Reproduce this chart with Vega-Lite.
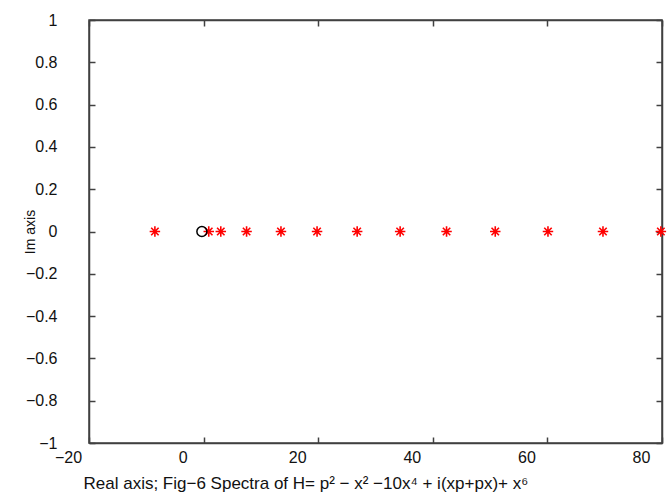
{
  "$schema": "https://vega.github.io/schema/vega-lite/v6.json",
  "width": 573,
  "height": 423,
  "autosize": {"type": "none"},
  "padding": {"left": 89, "top": 20, "right": 5, "bottom": 51},
  "background": "white",
  "data": {
    "values": [
      {"re": -8.5, "im": 0, "kind": "eig"},
      {"re": 0.9, "im": 0, "kind": "eig"},
      {"re": 3.0, "im": 0, "kind": "eig"},
      {"re": 7.5, "im": 0, "kind": "eig"},
      {"re": 13.5, "im": 0, "kind": "eig"},
      {"re": 19.8, "im": 0, "kind": "eig"},
      {"re": 26.8, "im": 0, "kind": "eig"},
      {"re": 34.3, "im": 0, "kind": "eig"},
      {"re": 42.4, "im": 0, "kind": "eig"},
      {"re": 50.9, "im": 0, "kind": "eig"},
      {"re": 60.1, "im": 0, "kind": "eig"},
      {"re": 69.7, "im": 0, "kind": "eig"},
      {"re": 79.8, "im": 0, "kind": "eig"},
      {"re": -0.3, "im": 0, "kind": "ref"}
    ]
  },
  "layer": [
    {
      "transform": [{"filter": "datum.kind === 'eig'"}],
      "mark": {
        "type": "point",
        "shape": "M-1,0L1,0M0,-1L0,1M-0.71,-0.71L0.71,0.71M-0.71,0.71L0.71,-0.71",
        "filled": false,
        "stroke": "#ff0000",
        "strokeWidth": 1.6,
        "size": 110,
        "opacity": 1,
        "clip": false
      },
      "encoding": {
        "x": {
          "field": "re", "type": "quantitative",
          "scale": {"domain": [-20, 80], "nice": false, "zero": false},
          "axis": {
            "orient": "bottom",
            "values": [-20, 0, 20, 40, 60, 80],
            "format": "d",
            "labelOffset": -21,
            "labelFlush": false,
            "labelOverlap": false,
            "labelBound": false,
            "labelPadding": 12,
            "title": "Real axis; Fig−6 Spectra of H= p² − x² −10x⁴ + i(xp+px)+ x⁶",
            "titleAnchor": "start",
            "titleAlign": "left",
            "titleX": -6,
            "titleY": 45,
            "titleBaseline": "alphabetic",
            "titleFontSize": 17
          }
        },
        "y": {
          "field": "im", "type": "quantitative",
          "scale": {"domain": [-1, 1], "nice": false, "zero": false},
          "axis": {
            "orient": "left",
            "values": [-1, -0.8, -0.6, -0.4, -0.2, 0, 0.2, 0.4, 0.6, 0.8, 1],
            "format": ".1~f",
            "labelFlush": false,
            "labelOverlap": false,
            "labelPadding": 38,
            "title": "Im axis",
            "titleFontSize": 14,
            "titleAngle": -90,
            "titleBaseline": "middle",
            "titleAlign": "center",
            "titleX": -59,
            "titleY": 211.5
          }
        }
      }
    },
    {
      "transform": [{"filter": "datum.kind === 'ref'"}],
      "mark": {
        "type": "point",
        "shape": "circle",
        "filled": false,
        "stroke": "#000000",
        "strokeWidth": 1.5,
        "size": 100,
        "opacity": 1
      },
      "encoding": {
        "x": {
          "field": "re", "type": "quantitative",
          "axis": {"orient": "top", "values": [-20, 0, 20, 40, 60, 80], "labels": false, "title": null}
        },
        "y": {
          "field": "im", "type": "quantitative",
          "axis": {"orient": "right", "values": [-1, -0.8, -0.6, -0.4, -0.2, 0, 0.2, 0.4, 0.6, 0.8, 1], "labels": false, "title": null}
        }
      }
    }
  ],
  "resolve": {"axis": {"x": "independent", "y": "independent"}},
  "config": {
    "view": {"stroke": "#404040", "strokeWidth": 1.5},
    "font": "Liberation Sans",
    "axis": {
      "grid": false,
      "domainColor": "#404040",
      "domainWidth": 1.5,
      "tickColor": "#404040",
      "tickWidth": 1.5,
      "tickSize": -6,
      "labelFont": "Liberation Sans",
      "labelFontSize": 16,
      "labelColor": "#111111",
      "titleFont": "Liberation Sans",
      "titleFontWeight": "normal",
      "titleColor": "#111111"
    }
  }
}
